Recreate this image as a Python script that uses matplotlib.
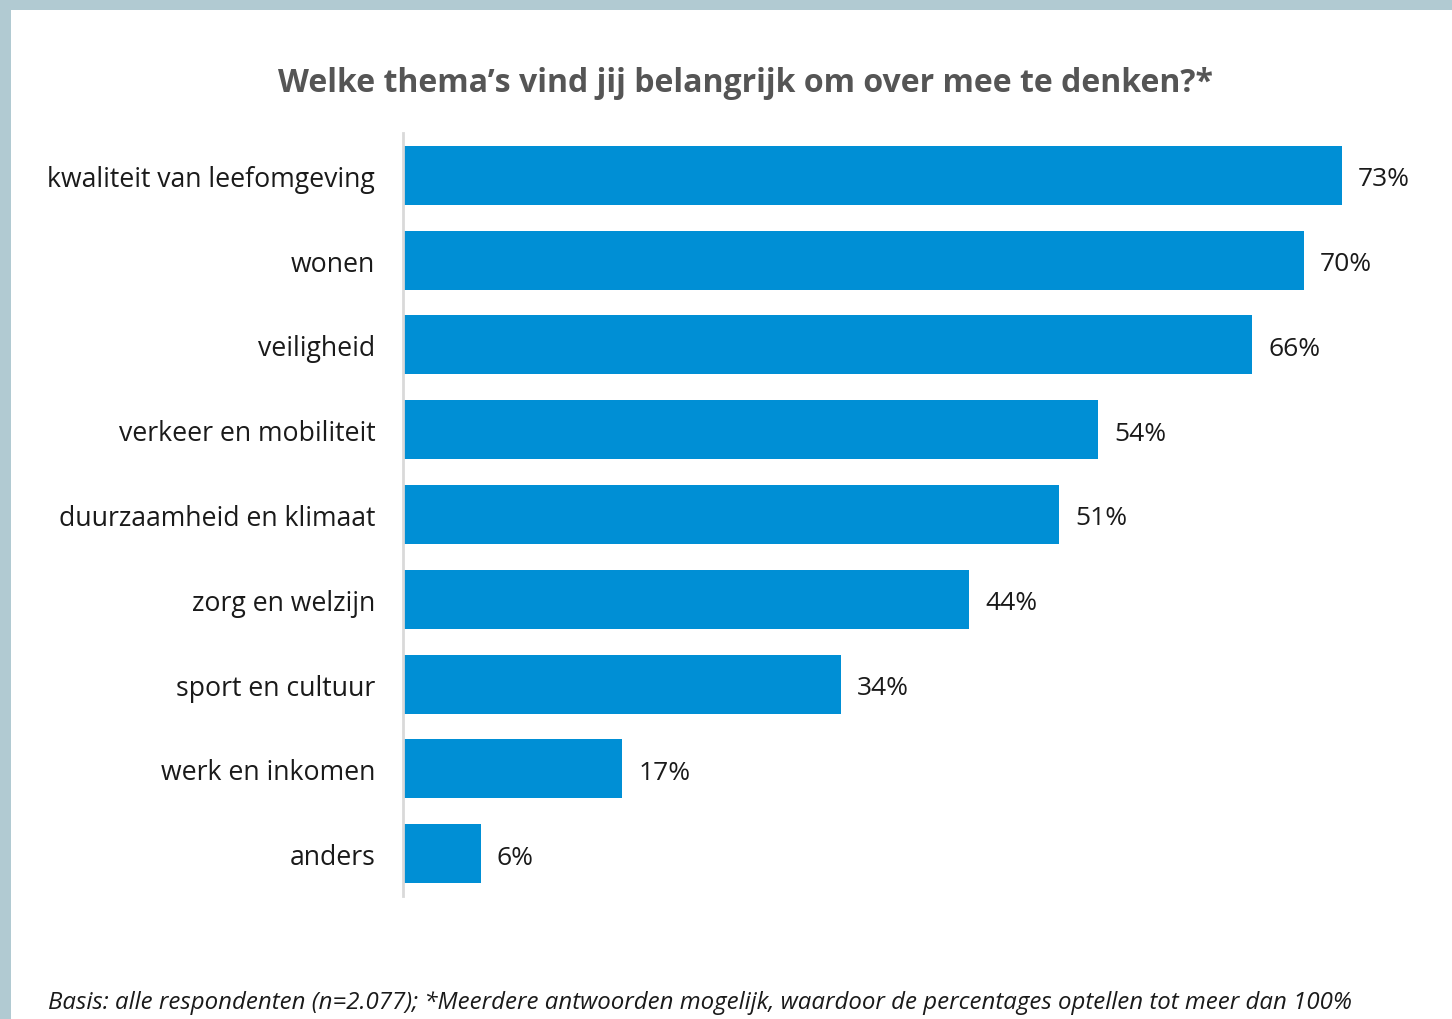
import matplotlib.pyplot as plt
from matplotlib.patches import Rectangle

plt.rcParams['font.family'] = ['Open Sans', 'DejaVu Sans']

themes = ['kwaliteit van leefomgeving', 'wonen', 'veiligheid', 'verkeer en mobiliteit',
          'duurzaamheid en klimaat', 'zorg en welzijn', 'sport en cultuur',
          'werk en inkomen', 'anders']
percentages = [73, 70, 66, 54, 51, 44, 34, 17, 6]

title = "Welke thema\u2019s vind jij belangrijk om over mee te denken?*"
footnote = ("Basis: alle respondenten (n=2.077); *Meerdere antwoorden mogelijk, "
            "waardoor de percentages optellen tot meer dan 100%")

bar_color = '#008fd5'
text_color = '#1a1a1a'

fig = plt.figure(figsize=(14.52, 10.2), dpi=100)
fig.patch.set_facecolor('#b1cad2')
# white panel
fig.patches.append(Rectangle((11 / 1452, 0), 1 - 11 / 1452, 1 - 11 / 1020,
                             transform=fig.transFigure, facecolor='white',
                             edgecolor='none', zorder=0))

ax = fig.add_axes([403 / 1452, 1 - 897 / 1020, 1 - 403 / 1452, (897 - 134) / 1020])
ax.set_zorder(2)
ax.set_facecolor('none')
ypos = list(range(len(themes)))
ax.barh(ypos, percentages, height=0.695, color=bar_color, left=0.05)
ax.set_xlim(0, 81.6)
ax.set_ylim(len(themes) - 0.5, -0.5)

for y, v in zip(ypos, percentages):
    ax.text(v + 1.3, y + 0.04, f'{v}%', va='center', ha='left', fontsize=19, color=text_color)

ax.set_yticks(ypos)
ax.set_yticklabels(themes, fontsize=19.2, color=text_color)
ax.tick_params(axis='y', length=0, pad=20)
ax.set_xticks([])
for side in ['top', 'right', 'bottom']:
    ax.spines[side].set_visible(False)
ax.spines['left'].set_color('#d9d9d9')
ax.spines['left'].set_linewidth(2)

fig.text(745 / 1452, 1 - 84 / 1020, title, ha='center', va='center',
         fontsize=23, fontweight='bold', color='#555555', zorder=3)
fig.text(48 / 1452, 1 - 1003 / 1020, footnote, ha='left', va='center',
         fontsize=17.3, style='italic', color=text_color, zorder=3)

fig.savefig('out.png', dpi=100, facecolor=fig.get_facecolor())
